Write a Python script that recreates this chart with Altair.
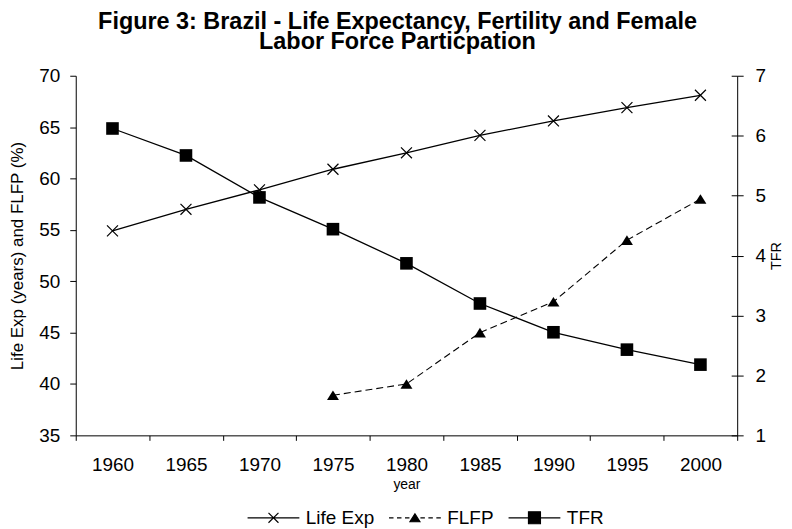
import altair as alt
import pandas as pd

# ---- data ----
years = ["1960", "1965", "1970", "1975", "1980", "1985", "1990", "1995", "2000"]
life_exp = [54.9, 57.0, 58.9, 60.9, 62.5, 64.2, 65.6, 66.9, 68.1]
flfp = [None, None, None, 38.9, 40.0, 45.0, 48.0, 54.0, 58.0]
tfr = [6.12, 5.67, 4.97, 4.44, 3.87, 3.20, 2.72, 2.43, 2.18]
series = ["Life Exp", "FLFP", "TFR"]
left_ticks = [35, 40, 45, 50, 55, 60, 65, 70]
right_ticks = [1, 2, 3, 4, 5, 6, 7]

df_life = pd.DataFrame({"year": years, "value": life_exp})
df_flfp = pd.DataFrame({"year": years, "value": flfp}).dropna()
df_tfr = pd.DataFrame({"year": years, "value": tfr})
df_legend = pd.DataFrame({"series": series})

FONT = "Liberation Sans"
W, H = 664, 361

X_PATH = "M-1,-1L1,1M-1,1L1,-1"
TRI_PATH = "M0,-0.8L1,0.8L-1,0.8Z"

LEG_X = "M-5.2,0L5.2,0M-1,-1L1,1M-1,1L1,-1"
LEG_TRI = ("M-5.2,0L-4.3,0M-3.6,0L-2.7,0M-2.0,0L-1.1,0"
           "M1.1,0L2.0,0M2.7,0L3.6,0M4.3,0L5.2,0"
           "M0,-0.8L1,0.8L-1,0.8Z")
LEG_SQ = "M-5.2,0L5.2,0M-1.2,-1.2L1.2,-1.2L1.2,1.2L-1.2,1.2Z"

x_enc = alt.X(
    "year:O",
    scale=alt.Scale(type="band", domain=years, paddingInner=0, paddingOuter=0),
    axis=alt.Axis(
        title="year", labelAngle=0, tickBand="extent", tickSize=5,
        labelPadding=15, labelFontSize=19, titleFontSize=14, titlePadding=3,
        titleFontWeight="normal",
    ),
)

left_scale = alt.Scale(domain=[35, 70], nice=False, zero=False)
left_axis = alt.Axis(
    values=left_ticks, title="Life Exp (years) and FLFP (%)", tickSize=6,
    labelPadding=10, labelFontSize=19, titleFontSize=17, titlePadding=12,
    titleFontWeight="normal",
)
right_scale = alt.Scale(domain=[1, 7], nice=False, zero=False)
right_axis = alt.Axis(
    orient="right", values=right_ticks, title="TFR", tickSize=6,
    labelPadding=12, labelFontSize=19, titleFontSize=14.5, titlePadding=4,
    titleFontWeight="normal", titleAngle=270, titleBaseline="top",
)
right_inner_axis = alt.Axis(
    orient="right", values=right_ticks, title=None, tickSize=6, offset=-6,
    labels=False, domain=False,
)

life_line = alt.Chart(df_life).mark_line(color="black", strokeWidth=1.3).encode(
    x=x_enc, y=alt.Y("value:Q", scale=left_scale, axis=left_axis)
)
life_pts = alt.Chart(df_life).mark_point(
    shape=X_PATH, size=121, filled=False, color="black", strokeWidth=1.2, opacity=1
).encode(x=x_enc, y=alt.Y("value:Q", scale=left_scale, axis=left_axis))

flfp_line = alt.Chart(df_flfp).mark_line(
    color="black", strokeWidth=1.1, strokeDash=[7, 4]
).encode(x=x_enc, y=alt.Y("value:Q", scale=left_scale, axis=left_axis))
flfp_pts = alt.Chart(df_flfp).mark_point(
    shape=TRI_PATH, size=144, filled=True, color="black", opacity=1
).encode(x=x_enc, y=alt.Y("value:Q", scale=left_scale, axis=left_axis))

legend = alt.Legend(
    title=None, orient="none", legendX=189, legendY=434, direction="horizontal",
    columns=3, labelFont=FONT, labelFontSize=19, labelColor="black",
    labelOffset=23, columnPadding=12, symbolSize=100, symbolOpacity=1,
    symbolStrokeWidth=1.2, padding=0,
)
legend_layer = alt.Chart(df_legend).mark_point(opacity=0, size=100).encode(
    shape=alt.Shape("series:N", scale=alt.Scale(domain=series, range=[LEG_X, LEG_TRI, LEG_SQ]), legend=legend),
    fill=alt.Fill("series:N", scale=alt.Scale(domain=series, range=["transparent", "black", "black"]), legend=legend),
    stroke=alt.Stroke("series:N", scale=alt.Scale(domain=series, range=["black", "black", "black"]), legend=legend),
)

left = alt.layer(life_line, flfp_line, life_pts, flfp_pts, legend_layer)

tfr_line = alt.Chart(df_tfr).mark_line(color="black", strokeWidth=1.3).encode(
    x=x_enc, y=alt.Y("value:Q", scale=right_scale, axis=right_axis)
)
tfr_pts = alt.Chart(df_tfr).mark_point(
    shape="square", size=160, filled=True, color="black", opacity=1
).encode(x=x_enc, y=alt.Y("value:Q", scale=right_scale, axis=right_axis))
right = alt.layer(tfr_line, tfr_pts)

inner = alt.Chart(df_tfr).mark_point(opacity=0).encode(
    x=x_enc, y=alt.Y("value:Q", scale=right_scale, axis=right_inner_axis)
)

chart = (
    alt.layer(left, right, inner)
    .resolve_scale(y="independent")
    .properties(
        width=W, height=H,
        padding={"left": 0, "top": 1, "right": 0, "bottom": 0},
        title=alt.TitleParams(
            text=["Figure 3: Brazil - Life Expectancy, Fertility and Female",
                  "Labor Force Particpation"],
            font=FONT, fontSize=23.5, fontWeight="bold", color="black",
            lineHeight=20, anchor="middle", offset=10, dy=-3, dx=-9,
        ),
    )
    .configure(font=FONT, background="white")
    .configure_view(stroke=None)
    .configure_axis(
        grid=False, domainColor="black", tickColor="black", labelColor="black",
        titleColor="black", labelFont=FONT, titleFont=FONT,
        domainWidth=1, tickWidth=1,
    )
)

chart.save("out.html", embed_options={"renderer": "svg", "actions": False})
